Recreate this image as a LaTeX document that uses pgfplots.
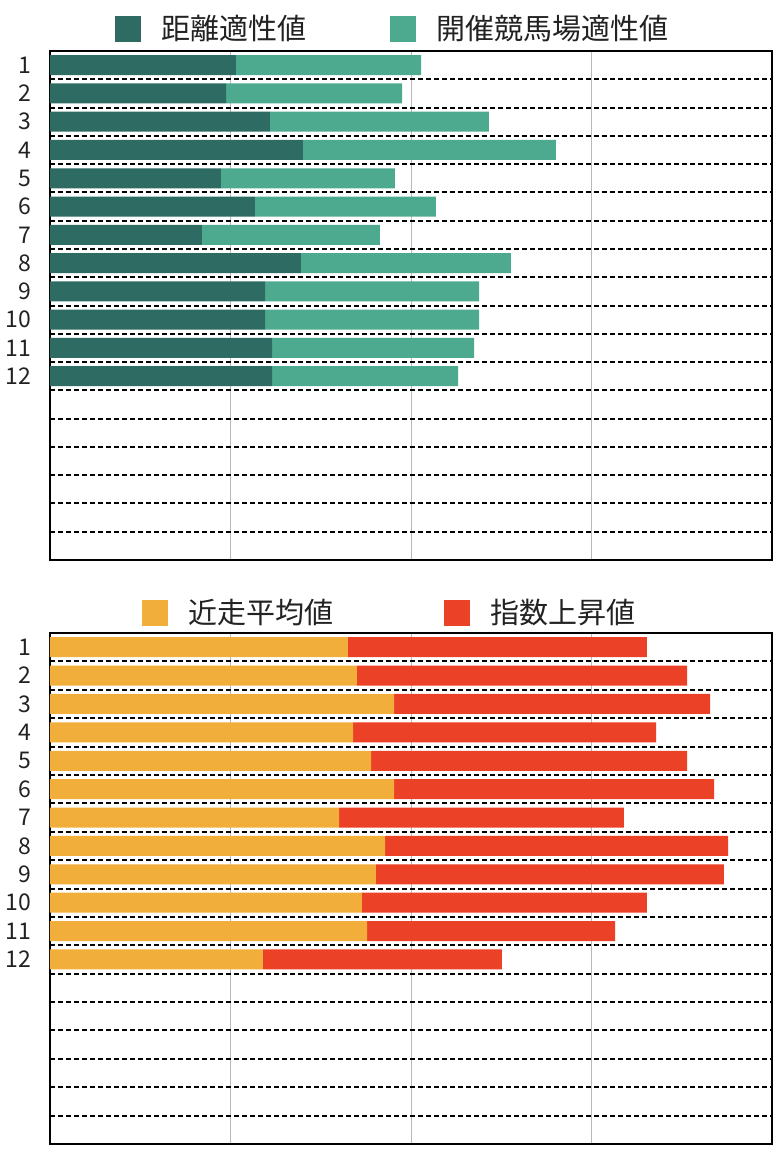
\documentclass[border=0pt]{standalone}
\usepackage{pgfplots}
\pgfplotsset{compat=1.18}
\usepackage{fontspec}
\setmainfont{Noto Sans CJK JP}
\definecolor{dg}{HTML}{2E6B63}
\definecolor{lg}{HTML}{4DAA8F}
\definecolor{og}{HTML}{F2AE3A}
\definecolor{rd}{HTML}{EB4126}
\definecolor{txt}{HTML}{222222}
\pgfplotsset{
 mybar/.style={
  xbar stacked, scale only axis, width=361pt,
  xmin=0, xmax=100, ymin=0.5, ymax=18.5, y dir=reverse,
  bar width=10pt,
  xtick={25,50,75}, xticklabels={},
  xmajorgrids, major grid style={gray!55, line width=0.5pt},
  ytick={1,...,12}, minor ytick={1.5,2.5,...,17.5},
  yminorgrids, minor grid style={black, line width=1pt, dash pattern=on 2.5pt off 1.5pt},
  major tick length=0pt, minor tick length=0pt,
  axis line style={line width=1.3pt},
  /pgf/number format/assume math mode=true,
  yticklabel style={font=\fontsize{11.5}{13}\selectfont, text=txt, xshift=-6pt},
  legend columns=2,
  legend image code/.code={\fill[##1] (0pt,-6.5pt) rectangle (13pt,6.5pt);},
 }
}
\begin{document}
\begin{tikzpicture}
\path[use as bounding box] (0,0) rectangle (387pt,-579pt);
\begin{axis}[mybar, at={(25pt,-25.5pt)}, anchor=north west, height=254.5pt,
  legend style={draw=none, fill=none, font=\fontsize{14.5}{17}\selectfont, text=txt,
    at={(0.5,1)}, anchor=south, yshift=4pt, xshift=-9.5pt, inner sep=0pt, nodes={inner sep=0pt},
    /tikz/every odd column/.append style={column sep=10.5pt},
    /tikz/every even column/.append style={column sep=41.5pt}}]
\addplot[fill=dg, draw=none] coordinates {(25.76,1) (24.38,2) (30.47,3) (35.04,4) (23.68,5) (28.39,6) (21.05,7) (34.76,8) (29.78,9) (29.78,10) (30.75,11) (30.75,12)};
\addplot[fill=lg, draw=none] coordinates {(25.63,1) (24.38,2) (30.33,3) (35.04,4) (24.10,5) (25.07,6) (24.65,7) (29.09,8) (29.64,9) (29.64,10) (27.98,11) (25.76,12)};
\legend{距離適性値, 開催競馬場適性値}
\end{axis}
\begin{axis}[mybar, at={(25pt,-316.5pt)}, anchor=north west, height=255.5pt,
  legend style={draw=none, fill=none, font=\fontsize{14.5}{17}\selectfont, text=txt,
    at={(0.5,1)}, anchor=south, yshift=3pt, xshift=-11pt, inner sep=0pt, nodes={inner sep=0pt},
    /tikz/every odd column/.append style={column sep=10.5pt},
    /tikz/every even column/.append style={column sep=55pt}}]
\addplot[fill=og, draw=none] coordinates {(41.27,1) (42.52,2) (47.65,3) (41.97,4) (44.46,5) (47.65,6) (40.03,7) (46.40,8) (45.15,9) (43.21,10) (43.91,11) (29.50,12)};
\addplot[fill=rd, draw=none] coordinates {(41.41,1) (45.71,2) (43.77,3) (41.97,4) (43.77,5) (44.32,6) (39.47,7) (47.51,8) (48.20,9) (39.47,10) (34.35,11) (33.10,12)};
\legend{近走平均値, 指数上昇値}
\end{axis}
\end{tikzpicture}
\end{document}
